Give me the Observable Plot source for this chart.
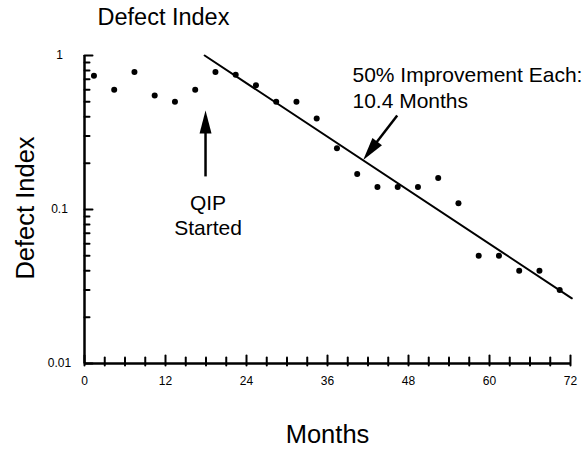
<!DOCTYPE html>
<html>
<head>
<meta charset="utf-8">
<script src="https://cdn.jsdelivr.net/npm/d3@7"></script>
<script src="https://cdn.jsdelivr.net/npm/@observablehq/plot@0.6"></script>
<style>
  html, body { margin: 0; padding: 0; background: #fff; }
</style>
</head>
<body>
<div id="chart"></div>
<script>
// ---- data ----
const months = [1.4, 4.4, 7.4, 10.4, 13.4, 16.4, 19.4, 22.4, 25.4, 28.4, 31.4, 34.4,
                37.4, 40.4, 43.4, 46.4, 49.4, 52.4, 55.4, 58.4, 61.4, 64.4, 67.4, 70.4];
const defectIndex = [0.74, 0.60, 0.78, 0.55, 0.50, 0.60, 0.78, 0.75, 0.64, 0.50, 0.50, 0.39,
                     0.25, 0.17, 0.14, 0.14, 0.14, 0.16, 0.11, 0.05, 0.05, 0.04, 0.04, 0.03];
const trendMonths = [17.8, 72.2];
const trendValues = [1.0, 0.0265];
const xMajorTicks = [0, 12, 24, 36, 48, 60, 72];
const xMinorTicks = [3, 6, 9, 15, 18, 21, 27, 30, 33, 39, 42, 45, 51, 54, 57, 63, 66, 69];
const yMajorTicks = [0.01, 0.1, 1];
const yTickLabels = ["0.01", "0.1", "1"];
const yMinorTicks = [0.02, 0.03, 0.04, 0.05, 0.06, 0.07, 0.08, 0.09,
                     0.2, 0.3, 0.4, 0.5, 0.6, 0.7, 0.8, 0.9];
const titleText = "Defect Index";
const yLabel = "Defect Index";
const xLabel = "Months";
const qipNote = "QIP\nStarted";
const qipNoteAt = {month: 18.3, value: 0.093};
const trendNote = "50% Improvement Each:\n10.4 Months";
const trendNoteAt = {month: 39.7, value: 0.624};
// arrows: shaft start / shaft end, and tip (month, value)
const arrowShafts = [
  {x1: 17.93, y1: 0.164, x2: 17.93, y2: 0.326},
  {x1: 46.33, y1: 0.408, x2: 43.1, y2: 0.267}
];
const arrowTips = [
  {x: 17.93, y: 0.439, angle: 0},
  {x: 41.29, y: 0.210, angle: 217.5}
];

const points = months.map((m, i) => ({month: m, value: defectIndex[i]}));
const trend = trendMonths.map((m, i) => ({month: m, value: trendValues[i]}));
const yLabelRows = yMajorTicks.map((v, i) => ({value: v, label: yTickLabels[i]}));

const arrowHead = {
  draw(ctx) {
    ctx.moveTo(0, 0);
    ctx.lineTo(6, 23);
    ctx.lineTo(-6, 23);
    ctx.closePath();
  }
};
const tickShape = {
  draw(ctx, l) {
    ctx.moveTo(0, 0);
    ctx.lineTo(0, -l);
  }
};

const font = "'Liberation Sans', Arial, Helvetica, sans-serif";
const W = 586, H = 451, ML = 84, MR = 16, MT = 55, MB = 88;

const chart = Plot.plot({
  width: W,
  height: H,
  marginLeft: ML,
  marginRight: MR,
  marginTop: MT,
  marginBottom: MB,
  style: {fontFamily: font, fontSize: "12px", background: "#fff", color: "#000"},
  x: {domain: [0, 72], axis: null},
  y: {type: "log", domain: [0.01, 1], axis: null},
  marks: [
    // axis lines
    Plot.ruleY([0.01], {stroke: "#000", strokeWidth: 2.5}),
    Plot.ruleX([0], {stroke: "#000", strokeWidth: 2.5}),
    // tick labels
    Plot.text(xMajorTicks, {x: d => d, text: d => String(d), frameAnchor: "bottom", dy: 17.5, textAnchor: "middle", lineAnchor: "middle", fontSize: 12}),
    Plot.text(yLabelRows, {y: "value", text: "label", frameAnchor: "left", dx: -25, textAnchor: "middle", lineAnchor: "middle", fontSize: 12}),
    // trend line
    Plot.line(trend, {x: "month", y: "value", stroke: "#000", strokeWidth: 2}),
    // data points
    Plot.dot(points, {x: "month", y: "value", r: 3, fill: "#000", stroke: null}),
    // arrows
    Plot.link(arrowShafts, {x1: "x1", y1: "y1", x2: "x2", y2: "y2", stroke: "#000", strokeWidth: 2.5}),
    Plot.dot(arrowTips, {x: "x", y: "y", rotate: "angle", symbol: arrowHead, fill: "#000", stroke: null}),
    // annotations
    Plot.text([qipNoteAt], {x: "month", y: "value", text: () => qipNote, fontSize: 21, lineHeight: 1.2, textAnchor: "middle"}),
    Plot.text([trendNoteAt], {x: "month", y: "value", text: () => trendNote, fontSize: 21, lineHeight: 1.24, textAnchor: "start"}),
    // title and axis labels
    Plot.text([titleText], {frameAnchor: "top-left", dx: 13, dy: -38.5, textAnchor: "start", lineAnchor: "middle", fontSize: 23.5}),
    Plot.text([yLabel], {frameAnchor: "left", dx: -59, dy: -1.5, rotate: -90, textAnchor: "middle", lineAnchor: "middle", fontSize: 25.5}),
    Plot.text([xLabel], {frameAnchor: "bottom", dy: 71, textAnchor: "middle", lineAnchor: "middle", fontSize: 25.5}),
    // inward ticks, drawn last (x: upward from the axis, y: rightward from the axis)
    Plot.vector(xMinorTicks, {x: d => d, frameAnchor: "bottom", dy: 2, length: 8, rotate: 0, anchor: "start", shape: tickShape, stroke: "#000", strokeWidth: 2}),
    Plot.vector(xMajorTicks, {x: d => d, frameAnchor: "bottom", dy: 2, length: 10, rotate: 0, anchor: "start", shape: tickShape, stroke: "#000", strokeWidth: 2}),
    Plot.vector(yMinorTicks, {y: d => d, frameAnchor: "left", length: 5, rotate: 90, anchor: "start", shape: tickShape, stroke: "#000", strokeWidth: 2}),
    Plot.vector(yMajorTicks, {y: d => d, frameAnchor: "left", length: 8, rotate: 90, anchor: "start", shape: tickShape, stroke: "#000", strokeWidth: 2})
  ]
});

document.getElementById("chart").appendChild(chart);
</script>
</body>
</html>
